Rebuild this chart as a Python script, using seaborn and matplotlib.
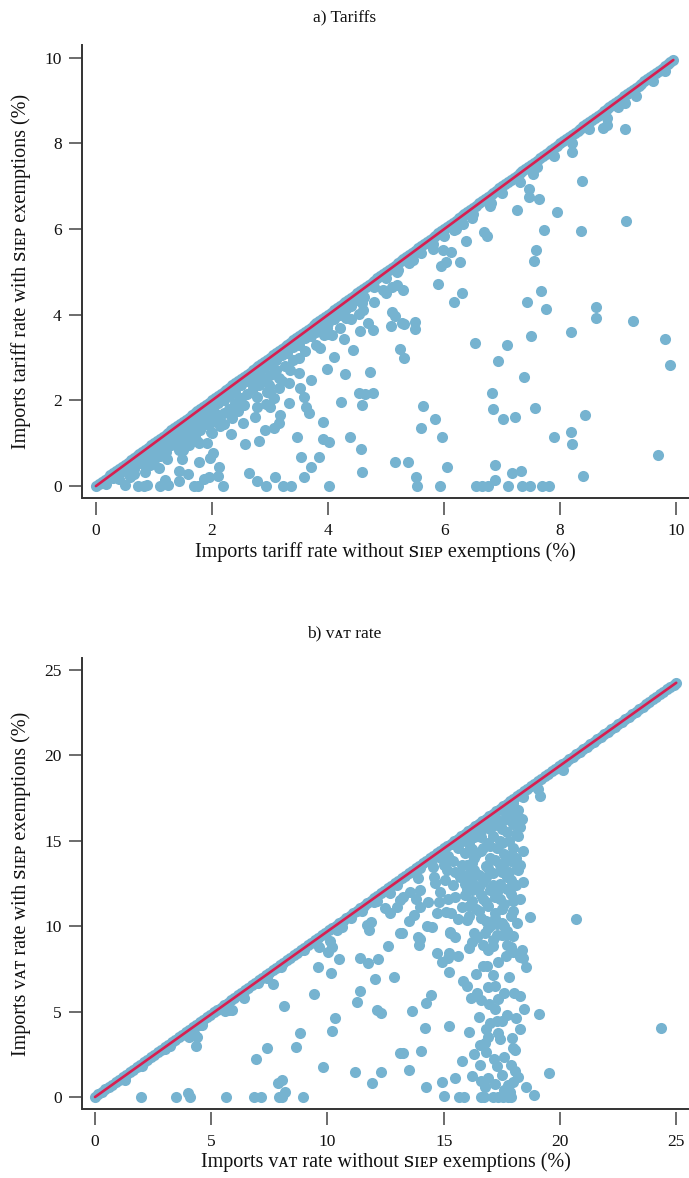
import numpy as np
import pandas as pd
import matplotlib
matplotlib.use("Agg")
import matplotlib.pyplot as plt
import seaborn as sns

# ---------------- Panel a) Tariffs ----------------
# points lying on the 45-degree line (y equals x)
a_diag = [0.0, 0.1, 0.2, 0.3, 0.4, 0.5, 0.6, 0.7, 0.8, 0.9, 1.0, 1.1, 1.2, 1.3, 1.4,
          1.5, 1.6, 1.7, 1.8, 1.9, 2.0, 2.1, 2.2, 2.3, 2.4, 2.5, 2.6, 2.7, 2.8, 2.9,
          3.0, 3.1, 3.2, 3.3, 3.4, 3.5, 3.6, 3.7, 3.8, 3.9, 4.0, 4.1, 4.2, 4.3, 4.4,
          4.5, 4.6, 4.7, 4.8, 4.9, 5.0, 5.1, 5.2, 5.3, 5.4, 5.5, 5.6, 5.7, 5.8, 5.9,
          6.0, 6.1, 6.2, 6.3, 6.4, 6.5, 6.6, 6.7, 6.8, 6.9, 7.0, 7.1, 7.2, 7.3, 7.4,
          7.5, 7.6, 7.7, 7.8, 7.9, 8.0, 8.1, 8.2, 8.3, 8.4, 8.5, 8.6, 8.7, 8.8, 8.9,
          9.0, 9.1, 9.2, 9.3, 9.4, 9.5, 9.6, 9.7, 9.8, 9.9, 9.95,
          0.05, 0.15, 0.25, 0.35, 0.45, 0.55, 0.65, 0.75, 0.85, 0.95, 1.05, 1.15, 1.25, 1.35, 1.45,
          1.55, 1.65, 1.75, 1.85, 1.95, 2.05, 2.15, 2.25, 2.35, 2.45, 2.55, 2.65, 2.75, 2.85, 2.95,
          3.05, 3.15, 3.25, 3.35, 3.45, 3.55, 3.65, 3.75, 3.85, 3.95, 4.05, 4.15, 4.25, 4.35, 4.45,
          4.55, 4.65, 4.75, 4.85, 4.95, 5.05, 5.15, 5.25, 5.35, 5.45, 5.55, 5.65, 5.75, 5.85, 5.95,
          6.05, 6.15, 6.25, 6.35, 6.45, 6.55, 6.65, 6.75, 6.85, 6.95, 7.05, 7.15, 7.25, 7.35, 7.45,
          7.55, 7.65, 7.75, 7.85, 7.95, 8.05, 8.15, 8.25, 8.35, 8.45, 8.55, 8.65, 8.75, 8.85, 8.95,
          9.05, 9.15, 9.25, 9.35, 9.45, 9.55, 9.65, 9.75, 9.85]

# points below the line
a_x = [0.3, 0.4, 0.5, 0.55, 0.6, 0.65, 0.7, 0.75, 0.8, 0.85, 0.9, 0.95, 1.0, 1.05, 1.1,
       1.15, 1.2, 1.25, 1.3, 1.35, 1.4, 1.45, 1.5, 1.55, 1.6, 1.65, 1.7, 1.75, 1.8, 1.85,
       1.9, 1.95, 2.0, 2.05, 2.1, 2.2, 2.3, 2.4, 2.5, 2.6, 2.7, 2.8, 2.9, 3.0, 3.1,
       3.2, 3.3, 3.4, 3.5, 3.6, 3.7, 3.8, 3.9, 4.0, 4.1, 4.2, 4.3, 4.4, 4.5, 4.6,
       4.8, 5.0, 5.2, 5.4, 5.6, 5.8, 6.0, 6.2, 6.5, 6.8, 7.0, 7.3, 7.6, 7.9, 8.2,
       8.5, 8.8, 9.0, 9.3, 9.6, 9.8,
       1.2, 1.3, 1.5, 1.6, 1.7, 1.8, 1.9, 2.0, 2.1, 2.2, 2.3, 2.4, 2.5, 2.6, 2.7,
       2.2, 2.0, 1.5, 1.4, 0.9, 1.0, 1.1, 1.75, 1.6, 2.35, 2.45, 2.55, 2.9, 3.0, 3.1,
       3.25, 3.4, 3.5, 3.6, 3.8, 4.0, 4.2, 4.4, 4.6, 4.8, 5.0, 3.5, 3.2, 2.95,
       9.12, 8.74, 8.81, 9.12, 8.21, 8.38, 9.14, 8.36, 7.95, 7.72, 7.53, 7.47, 7.47, 7.64, 7.26,
       7.59, 7.55, 6.79, 6.48, 6.33, 6.17, 6.69, 6.74, 6.38, 5.81, 5.98, 6.12, 6.03, 5.95, 6.28,
       5.47, 5.19, 5.90, 6.31, 6.17, 4.95, 5.10, 5.19, 5.29, 5.10, 5.16, 5.09, 5.28, 5.31, 5.50,
       5.50, 5.24, 5.31, 6.53, 7.09, 6.93, 7.38, 7.50, 7.43, 7.67, 7.76, 8.19, 8.62, 8.62, 9.26,
       9.81, 9.90,
       5.16, 5.38, 5.52, 5.53, 5.64, 5.60, 5.84, 5.96, 6.05, 5.93, 6.83, 6.84, 7.02, 7.22, 7.57,
       7.90, 8.19, 8.21, 8.43, 8.40, 6.88, 6.88, 7.17, 7.33, 7.10, 6.55, 6.66, 6.76, 7.34, 7.48,
       7.69, 7.81, 9.69,
       4.02, 3.22, 3.36, 2.93, 3.09, 2.78, 2.64, 2.19, 2.10, 2.12, 1.95, 1.86, 1.69, 1.76, 1.43,
       1.43, 1.10, 1.24, 1.19, 0.72, 0.88, 0.83, 0.50, 0.84, 1.09, 0.40, 0.59, 0.66, 0.17, 1.59,
       1.78, 1.97, 2.02, 1.48, 1.43, 1.22, 1.14, 0.93, 0.79, 1.00, 1.19, 1.78, 1.91, 1.98, 2.14,
       2.33, 2.57, 2.81, 2.53, 2.74, 2.91, 3.07, 3.16, 3.17, 2.78, 2.93, 3.00, 2.78, 3.00, 3.07,
       2.81, 2.98, 3.16, 3.33, 3.52, 3.59, 3.62, 3.67, 3.47, 3.53, 3.71, 3.59, 3.84, 3.91, 3.91,
       4.02, 4.22, 4.38, 4.57, 4.59, 4.53, 4.64, 4.78, 4.59, 4.72, 4.29, 3.98, 3.71, 3.33, 3.35,
       3.16, 4.10, 3.86, 4.43, 4.28, 4.55, 4.69, 4.78, 4.53, 4.31, 4.31, 4.12, 4.07, 3.93, 3.98,
       4.59, 4.62]
a_y = [0.2, 0.3, 0.35, 0.45, 0.5, 0.4, 0.6, 0.55, 0.7, 0.6, 0.8, 0.7, 0.9, 0.8, 1.0,
       0.95, 1.05, 1.1, 1.2, 1.1, 1.3, 1.15, 1.35, 1.25, 1.45, 1.3, 1.55, 1.4, 1.6, 1.5,
       1.75, 1.6, 1.85, 1.7, 1.95, 2.0, 2.1, 2.2, 2.35, 2.45, 2.5, 2.65, 2.75, 2.85, 2.95,
       3.05, 3.1, 3.25, 3.3, 3.45, 3.5, 3.6, 3.75, 3.8, 3.9, 4.0, 4.15, 4.2, 4.35, 4.4,
       4.65, 4.85, 5.05, 5.2, 5.45, 5.65, 5.85, 6.0, 6.35, 6.6, 6.85, 7.1, 7.45, 7.7, 8.0,
       8.35, 8.6, 8.85, 9.1, 9.45, 9.7,
       0.8, 0.95, 1.05, 1.15, 1.2, 1.3, 1.45, 1.5, 1.55, 1.7, 1.8, 1.95, 2.05, 2.15, 2.3,
       1.45, 1.25, 0.85, 0.95, 0.5, 0.6, 0.7, 1.05, 0.95, 1.6, 1.75, 1.9, 2.5, 2.6, 2.7,
       2.8, 2.95, 3.0, 3.15, 3.3, 3.55, 3.7, 3.9, 4.1, 4.3, 4.5, 2.65, 2.45, 2.2,
       8.95, 8.36, 8.43, 8.34, 7.80, 7.13, 6.19, 5.96, 6.40, 5.98, 7.29, 6.94, 6.76, 6.71, 6.45,
       5.51, 5.26, 6.54, 6.26, 6.12, 5.98, 5.93, 5.84, 5.72, 5.54, 5.51, 5.47, 5.23, 5.14, 5.23,
       5.28, 5.00, 4.72, 4.51, 4.30, 4.58, 4.65, 4.70, 4.58, 4.07, 3.97, 3.74, 3.81, 3.79, 3.83,
       3.67, 3.20, 2.99, 3.34, 3.29, 2.92, 2.55, 3.50, 4.30, 4.56, 4.14, 3.60, 4.18, 3.93, 3.86,
       3.43, 2.83,
       0.56, 0.56, 0.21, 0.00, 1.87, 1.36, 1.57, 1.14, 0.44, 0.00, 2.17, 1.80, 1.56, 1.61, 1.82,
       1.15, 1.26, 0.98, 1.66, 0.23, 0.49, 0.14, 0.30, 0.35, 0.00, 0.00, 0.00, 0.00, 0.00, 0.00,
       0.00, 0.00, 0.72,
       0.00, 0.00, 0.00, 0.00, 0.21, 0.12, 0.30, 0.00, 0.23, 0.44, 0.21, 0.16, 0.00, 0.00, 0.12,
       0.35, 0.00, 0.02, 0.14, 0.00, 0.02, 0.00, 0.02, 0.33, 0.42, 0.16, 0.21, 0.28, 0.05, 0.28,
       0.56, 0.65, 0.77, 0.63, 0.84, 0.63, 0.77, 0.49, 0.54, 0.84, 0.91, 1.00, 1.00, 1.26, 1.40,
       1.21, 0.98, 1.05, 1.47, 1.61, 1.31, 1.36, 1.47, 1.66, 1.85, 1.92, 1.85, 2.08, 2.17, 2.06,
       2.36, 2.36, 2.29, 1.94, 2.29, 2.08, 1.85, 1.71, 1.14, 0.68, 0.44, 0.21, 0.68, 1.50, 1.10,
       1.03, 1.96, 1.14, 0.86, 0.33, 2.17, 2.15, 2.17, 1.89, 2.66, 2.62, 2.73, 2.48, 2.41, 2.71,
       2.52, 3.01, 3.22, 3.18, 3.43, 3.62, 3.81, 3.64, 4.02, 3.92, 4.14, 3.95, 3.53, 3.53, 3.69,
       4.28, 4.42]
a_line_x = [0.0, 9.95]
a_line_y = [0.0, 9.95]

# ---------------- Panel b) VAT rate ----------------
b_diag_x = [0.0, 0.3, 0.6, 0.9, 1.2, 1.5, 1.8, 2.1, 2.4, 2.7, 3.0, 3.3, 3.6, 3.9, 4.2,
            4.5, 4.8, 5.1, 5.4, 5.7, 6.0, 6.3, 6.6, 6.9, 7.2, 7.5, 7.8, 8.1, 8.4, 8.7,
            9.0, 9.3, 9.6, 9.9, 10.2, 10.5, 10.8, 11.1, 11.4, 11.7, 12.0, 12.3, 12.6, 12.9, 13.2,
            13.5, 13.8, 14.1, 14.4, 14.7, 15.0, 15.3, 15.6, 15.9, 16.2, 16.5, 16.8, 17.1, 17.4, 17.7,
            18.0, 18.3, 18.6, 18.9, 19.2, 19.5, 19.8, 20.1, 20.4, 20.7, 21.0, 21.3, 21.6, 21.9, 22.2,
            22.5, 22.8, 23.1, 23.4, 23.7, 24.0, 24.3, 24.6, 24.9, 25.0,
            0.15, 0.45, 0.75, 1.05, 1.35, 1.65, 1.95, 2.25, 2.55, 2.85, 3.15, 3.45, 3.75, 4.05, 4.35,
            4.65, 4.95, 5.25, 5.55, 5.85, 6.15, 6.45, 6.75, 7.05, 7.35, 7.65, 7.95, 8.25, 8.55, 8.85,
            9.15, 9.45, 9.75, 10.05, 10.35, 10.65, 10.95, 11.25, 11.55, 11.85, 12.15, 12.45, 12.75, 13.05, 13.35,
            13.65, 13.95, 14.25, 14.55, 14.85, 15.15, 15.45, 15.75, 16.05, 16.35, 16.65, 16.95, 17.25, 17.55, 17.85,
            18.15, 18.45, 18.75, 19.05, 19.35, 19.65, 19.95, 20.25, 20.55, 20.85, 21.15, 21.45, 21.75, 22.05, 22.35,
            22.65, 22.95, 23.25, 23.55, 23.85, 24.15, 24.45, 24.75]
b_diag_y = [0.0, 0.29, 0.58, 0.87, 1.16, 1.46, 1.75, 2.04, 2.33, 2.62, 2.91, 3.2, 3.49, 3.78, 4.07,
            4.37, 4.66, 4.95, 5.24, 5.53, 5.82, 6.11, 6.4, 6.69, 6.98, 7.28, 7.57, 7.86, 8.15, 8.44,
            8.73, 9.02, 9.31, 9.6, 9.89, 10.19, 10.48, 10.77, 11.06, 11.35, 11.64, 11.93, 12.22, 12.51, 12.8,
            13.1, 13.39, 13.68, 13.97, 14.26, 14.55, 14.84, 15.13, 15.42, 15.71, 16.01, 16.3, 16.59, 16.88, 17.17,
            17.46, 17.75, 18.04, 18.33, 18.62, 18.92, 19.21, 19.5, 19.79, 20.08, 20.37, 20.66, 20.95, 21.24, 21.53,
            21.83, 22.12, 22.41, 22.7, 22.99, 23.28, 23.57, 23.86, 24.15, 24.25,
            0.15, 0.44, 0.73, 1.02, 1.31, 1.6, 1.89, 2.18, 2.47, 2.76, 3.06, 3.35, 3.64, 3.93, 4.22,
            4.51, 4.8, 5.09, 5.38, 5.67, 5.97, 6.26, 6.55, 6.84, 7.13, 7.42, 7.71, 8.0, 8.29, 8.58,
            8.88, 9.17, 9.46, 9.75, 10.04, 10.33, 10.62, 10.91, 11.2, 11.49, 11.79, 12.08, 12.37, 12.66, 12.95,
            13.24, 13.53, 13.82, 14.11, 14.4, 14.7, 14.99, 15.28, 15.57, 15.86, 16.15, 16.44, 16.73, 17.02, 17.31,
            17.61, 17.9, 18.19, 18.48, 18.77, 19.06, 19.35, 19.64, 19.93, 20.22, 20.52, 20.81, 21.1, 21.39, 21.68,
            21.97, 22.26, 22.55, 22.84, 23.13, 23.43, 23.72, 24.01]

b_x = [1.98, 3.49, 4.00, 4.09, 5.64, 6.84, 7.14, 7.92, 8.05, 8.18, 7.87, 8.05, 8.95, 6.93, 7.40,
       8.65, 8.82, 9.81, 11.19, 11.92, 12.31, 10.20, 10.33, 11.27, 11.40, 12.13, 12.31, 9.42, 8.13, 7.66,
       6.41, 5.77, 5.90, 5.60, 7.40, 4.35, 4.39, 4.26, 4.04, 4.60, 3.23, 1.29, 9.60, 9.64, 10.03,
       10.20, 10.10, 10.50, 10.16, 11.40, 11.75, 12.18, 12.05, 12.61, 12.87, 13.12, 13.12, 11.70, 11.88, 11.79,
       10.63, 10.41, 11.49, 12.13, 12.48, 12.69, 12.99, 13.12, 12.69,
       13.25, 13.51, 14.03, 14.24, 14.93, 15.02, 15.49, 15.66, 15.88, 16.22, 16.57, 16.61, 16.78, 16.61, 16.74,
       17.21, 17.51, 17.13, 17.34, 17.56, 17.77, 17.90, 17.77, 17.99, 17.86, 18.07, 18.55, 18.89, 19.54, 16.57,
       16.78, 16.82, 17.17, 17.30, 17.60, 17.34, 17.43, 17.94, 17.99, 18.07, 16.82, 17.00, 17.30, 17.51, 18.29,
       16.09, 15.23, 14.20, 13.64, 14.24, 14.46, 16.18, 16.44, 16.61, 16.95, 17.21, 17.34, 18.03, 18.29, 18.46,
       19.10, 15.83, 15.23, 14.93, 15.19, 15.23, 15.62, 14.72, 16.91, 17.21, 17.13, 16.70, 16.87, 17.34, 17.69,
       17.99, 18.37, 18.42, 18.55, 16.91, 17.13, 16.22, 16.44, 13.94, 13.98, 13.90, 15.28, 15.49, 16.78, 17.30,
       17.69, 17.73,
       20.14, 19.06, 19.15, 18.42, 18.37, 17.86, 18.16, 18.72, 20.70, 24.35,
       14.54, 14.63, 15.15, 15.06, 15.71, 16.35, 15.49, 14.85, 13.98, 13.55, 13.81, 14.33, 14.72, 15.10, 13.73,
       13.25, 13.21, 15.79, 16.00, 15.28, 14.50, 18.16,
       15.7, 15.8, 15.9, 16.0, 16.0, 16.1, 16.2, 16.2, 16.3, 16.3, 16.4, 16.5, 16.5, 16.6, 16.6,
       16.7, 16.7, 16.8, 16.8, 16.9, 16.9, 17.0, 17.0, 17.1, 17.1, 17.2, 17.2, 17.3, 17.3, 17.4,
       17.4, 17.5, 17.5, 17.6, 17.6, 17.7, 17.7, 17.8, 17.9, 17.9, 18.0, 18.0, 18.1, 18.1, 18.2,
       18.2, 16.4, 16.0, 15.6, 15.4, 15.2, 15.0, 16.5, 17.0, 17.6, 17.9, 18.3, 18.4, 16.2, 16.9,
       17.5, 17.8, 16.7, 17.3, 15.9, 16.1, 17.0, 17.6, 18.0, 15.6, 18.3, 18.4,
       2.0, 3.0, 4.2, 4.5, 5.5, 7.0, 8.0, 9.0, 10.5, 11.0, 12.0, 13.0, 14.0, 14.5, 15.0,
       15.5, 16.0, 16.5, 17.0, 17.5, 18.0,
       15.8, 16.1, 16.4, 16.7, 17.0, 17.3, 17.6, 17.9, 18.2, 16.0, 16.3, 16.6, 16.9, 17.2, 17.5,
       17.8, 18.1, 16.2, 16.5, 16.8, 17.1, 17.4, 17.7, 18.0, 16.4, 16.8, 17.2, 17.5, 17.9, 15.9,
       15.5, 16.2, 16.6, 17.0, 17.4, 17.7, 18.1, 16.9, 17.2, 16.3, 17.6, 17.9, 18.3, 16.1, 16.6,
       17.3, 17.7, 16.9, 16.3, 17.1, 17.5, 18.0, 16.7, 17.9, 16.1, 18.3, 16.4, 17.8, 16.0, 17.6,
       18.1, 16.5, 17.7, 16.9, 16.3, 17.9, 16.9, 18.2, 15.8, 17.6,
       13.5, 14.0, 14.3, 14.8, 15.2, 15.4, 15.3, 14.6, 13.9, 14.9]
b_y = [0.00, 0.00, 0.23, 0.00, 0.00, 0.00, 0.00, 0.00, 0.00, 0.30, 0.82, 1.00, 0.00, 2.22, 2.87,
       2.93, 3.75, 1.76, 1.46, 0.82, 1.46, 3.86, 4.63, 5.56, 6.20, 5.09, 4.92, 6.03, 5.33, 6.62,
       5.80, 5.09, 5.09, 5.03, 6.97, 2.99, 3.51, 3.75, 3.51, 4.20, 2.99, 1.00, 7.61, 8.78, 8.49,
       8.78, 9.13, 8.08, 7.26, 8.14, 7.85, 8.08, 6.91, 8.84, 7.03, 2.58, 9.60, 10.07, 10.25, 9.78,
       9.95, 9.78, 10.89, 11.48, 11.07, 10.77, 11.12, 11.53, 11.94,
       2.58, 1.58, 2.69, 0.59, 0.88, 0.06, 1.11, 0.00, 0.00, 1.23, 1.87, 0.94, 0.59, 0.00, 0.00,
       0.76, 1.29, 0.00, 0.00, 0.00, 0.00, 0.00, 0.70, 0.88, 0.29, 1.52, 0.59, 0.12, 1.41, 3.04,
       3.16, 2.63, 2.22, 1.81, 2.34, 3.75, 3.40, 3.45, 2.87, 2.75, 3.98, 4.33, 4.45, 4.45, 3.98,
       3.81, 4.16, 4.04, 5.03, 5.50, 5.97, 5.80, 6.09, 5.68, 5.44, 5.15, 5.74, 6.09, 5.91, 5.15,
       4.86, 6.79, 7.32, 7.90, 8.14, 8.43, 8.26, 8.43, 6.44, 6.50, 7.14, 7.67, 7.67, 7.90, 8.26,
       8.49, 8.61, 8.14, 7.61, 8.61, 8.84, 9.07, 9.37, 8.90, 9.25, 9.37, 9.60, 9.37, 9.60, 9.48,
       9.48, 8.90,
       19.15, 18.03, 17.62, 17.56, 16.28, 13.99, 13.41, 10.54, 10.42, 4.04,
       13.47, 12.53, 13.29, 12.70, 13.11, 13.00, 11.71, 12.00, 12.12, 12.00, 11.59, 11.42, 10.77, 10.83, 10.66,
       11.71, 9.60, 11.12, 10.36, 9.66, 9.95, 10.19,
       12.9, 13.6, 14.3, 12.2, 13.0, 14.8, 11.5, 13.7, 12.4, 15.2, 14.2, 10.9, 13.0, 11.8, 15.6,
       12.6, 14.6, 10.3, 13.5, 11.2, 15.9, 12.1, 14.0, 13.1, 15.3, 10.8, 11.7, 14.6, 16.2, 12.5,
       13.6, 10.2, 15.7, 11.3, 14.2, 12.9, 16.5, 15.0, 11.9, 13.8, 14.6, 16.0, 12.4, 15.4, 13.3,
       16.8, 15.5, 15.0, 14.6, 13.8, 14.1, 13.6, 16.0, 16.3, 17.0, 17.2, 15.8, 14.4, 12.9, 14.9,
       14.9, 13.2, 11.6, 12.0, 11.8, 10.6, 10.0, 10.0, 10.9, 10.4, 11.6, 12.6,
       1.8, 2.8, 3.9, 4.2, 5.2, 6.7, 7.6, 8.6, 10.0, 10.5, 11.4, 12.4, 13.4, 13.9, 14.3,
       14.8, 15.3, 15.8, 16.3, 16.8, 17.2,
       15.0, 15.4, 15.8, 16.1, 15.7, 15.9, 16.2, 16.6, 15.3, 13.6, 14.0, 14.4, 13.4, 13.9, 13.2,
       14.1, 14.0, 12.1, 12.3, 12.9, 12.4, 11.6, 12.2, 11.5, 11.0, 11.4, 10.5, 11.0, 10.6, 12.5,
       13.2, 14.5, 15.2, 14.7, 15.0, 15.5, 16.3, 16.0, 16.4, 13.3, 13.7, 12.7, 13.6, 11.2, 10.5,
       10.1, 9.7, 9.9, 9.6, 9.2, 9.5, 9.4, 8.9, 8.8, 8.7, 8.2, 7.2, 7.0, 6.5, 6.1,
       4.6, 4.7, 4.8, 3.5, 2.5, 1.9, 1.1, 1.2, 2.1, 0.4,
       10.3, 11.1, 10.0, 11.4, 11.6, 12.4, 10.8, 12.9, 12.8, 14.0]
b_line_x = [0.0, 25.0]
b_line_y = [0.0, 24.25]

# ---------------- labels ----------------
title_a = "a) Tariffs"
title_b = "b) \u1d20\u1d00\u1d1b rate"
xlabel_a = "Imports tariff rate without \ua731\u026a\u1d07\u1d18 exemptions (%)"
ylabel_a = "Imports tariff rate with \ua731\u026a\u1d07\u1d18 exemptions (%)"
xlabel_b = "Imports \u1d20\u1d00\u1d1b rate without \ua731\u026a\u1d07\u1d18 exemptions (%)"
ylabel_b = "Imports \u1d20\u1d00\u1d1b rate with \ua731\u026a\u1d07\u1d18 exemptions (%)"
ticks_a = [0, 2, 4, 6, 8, 10]
ticks_b = [0, 5, 10, 15, 20, 25]

sns.set_style("white")
plt.rcParams['font.family'] = ['Liberation Serif', 'DejaVu Serif', 'DejaVu Sans']

DOT = "#76b3d0"
RED = "#d81e50"
SPINE = "#333333"

fig = plt.figure(figsize=(6.89, 11.78), dpi=100)
ax_a = fig.add_axes([0.119, 0.5772, 0.881, 0.3846])
ax_b = fig.add_axes([0.119, 0.0586, 0.881, 0.3828])


def draw(ax, diag_x, diag_y, px, py, lx, ly, ticks, xlim, ylim, xlabel, ylabel):
    df = pd.DataFrame({"x": list(diag_x) + list(px), "y": list(diag_y) + list(py)})
    sns.scatterplot(data=df, x="x", y="y", ax=ax, color=DOT, s=64, linewidth=0,
                    alpha=1.0, zorder=2, clip_on=False)
    ax.plot(lx, ly, color=RED, lw=1.9, zorder=3, solid_capstyle="round")
    ax.set_xlim(*xlim)
    ax.set_ylim(*ylim)
    ax.set_xticks(ticks)
    ax.set_yticks(ticks)
    for s in ["top", "right"]:
        ax.spines[s].set_visible(False)
    ax.spines["left"].set_color(SPINE)
    ax.spines["left"].set_linewidth(1.4)
    ax.spines["bottom"].set_position(("outward", 2.5))
    ax.spines["bottom"].set_visible(False)
    ax.plot([0, 1], [0, 0], transform=ax.transAxes, color=SPINE, lw=1.4,
            clip_on=False, zorder=5, solid_capstyle="butt")
    ax.tick_params(axis="both", which="major", bottom=True, left=True,
                   direction="out", length=9.5, width=1.1,
                   color="#444444", labelsize=12.5, labelcolor="#111111")
    ax.tick_params(axis="x", pad=6)
    ax.tick_params(axis="y", pad=5)
    ax.set_xlabel(xlabel, fontsize=14.5, labelpad=2, color="#111111")
    ax.set_ylabel(ylabel, fontsize=14.5, labelpad=10, color="#111111")
    ax.grid(False)


draw(ax_a, a_diag, a_diag, a_x, a_y, a_line_x, a_line_y, ticks_a,
     (-0.24, 10.22), (-0.28, 10.3), xlabel_a, ylabel_a)
draw(ax_b, b_diag_x, b_diag_y, b_x, b_y, b_line_x, b_line_y, ticks_b,
     (-0.56, 25.55), (-0.70, 25.7), xlabel_b, ylabel_b)

fig.text(0.5, 1 - 18 / 1178, title_a, ha="center", va="center", fontsize=12.5, color="#111111")
fig.text(0.5, 1 - 633 / 1178, title_b, ha="center", va="center", fontsize=12.5, color="#111111")

fig.savefig("out.png", dpi=100)
